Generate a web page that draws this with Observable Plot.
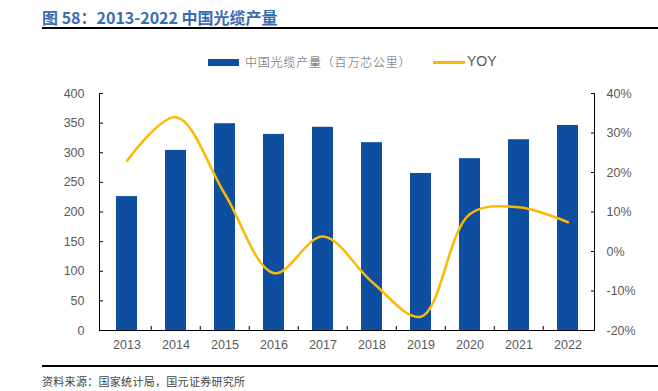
<!DOCTYPE html>
<html><head><meta charset="utf-8">
<script src="https://cdn.jsdelivr.net/npm/d3@7"></script>
<script src="https://cdn.jsdelivr.net/npm/@observablehq/plot@0.6"></script>
<style>
body{margin:0;background:#fff;}
#wrap{position:relative;width:658px;height:391px;overflow:hidden;font-family:"Liberation Sans",Arial,sans-serif;}
#title{position:absolute;left:42px;top:5px;font-family:"Noto Sans CJK SC",sans-serif;font-weight:bold;font-size:16px;color:#3a6cb2;white-space:nowrap;}
#tline{position:absolute;left:42px;top:27px;width:616px;height:2px;background:#000;}
#legend{position:absolute;left:0;top:52px;width:658px;height:20px;}
#fline{position:absolute;left:42px;top:365px;width:616px;height:2px;background:#000;}
#foot{position:absolute;left:42px;top:373px;font-family:"Noto Sans CJK SC",sans-serif;font-size:11px;color:#444;white-space:nowrap;letter-spacing:0.3px;}
#chart{position:absolute;left:0;top:0;}
.lg{position:absolute;white-space:nowrap;color:#595959;}
</style></head>
<body><div id="wrap">
<div id="chart"></div>
<div id="title">图 58：2013-2022 中国光缆产量</div>
<div id="tline"></div>
<div id="legend">
  <div style="position:absolute;left:208px;top:7px;width:31px;height:7px;background:#0d4ea0"></div>
  <div class="lg" style="left:245px;top:1px;font-family:'Noto Sans CJK SC',sans-serif;font-size:12px;font-weight:300;letter-spacing:0.8px;">中国光缆产量（百万芯公里）</div>
  <div style="position:absolute;left:433px;top:9px;width:32px;height:2.5px;background:#fbb900"></div>
  <div class="lg" style="left:467px;top:1px;font-size:14px;">YOY</div>
</div>
<div id="fline"></div>
<div id="foot">资料来源：国家统计局，国元证券研究所</div>
</div>
<script>
const years = ["2013","2014","2015","2016","2017","2018","2019","2020","2021","2022"];
const output = [226, 304, 349, 331, 343, 317, 265, 290, 322, 346];
const yoy = [23, 34, 14.5, -5.5, 3.8, -7.7, -16.5, 9.5, 11.2, 7.4];
const leftTicks = [0, 50, 100, 150, 200, 250, 300, 350, 400];
const rightTicks = [-20, -10, 0, 10, 20, 30, 40];

const yMax = 400, pMin = -20, pMax = 40;
const toY = p => (p - pMin) * yMax / (pMax - pMin);
const fromY = y => Math.round(y * (pMax - pMin) / yMax + pMin);

const bars = years.map((y, i) => ({year: y, value: output[i]}));
const line = years.map((y, i) => ({year: y, yoy: yoy[i]}));

const W = 658, H = 391;
const mL = 99, mR = 64, mT = 93, mB = 61;
const step = (W - mL - mR) / years.length;
const frameH = H - mT - mB;

const chart = Plot.plot({
  width: W, height: H,
  marginLeft: mL, marginRight: mR, marginTop: mT, marginBottom: mB,
  style: {fontFamily: "Liberation Sans, Arial, sans-serif", fontSize: "12px", color: "#595959", background: "transparent"},
  x: {domain: years, paddingInner: 0.576, paddingOuter: 0.288, label: null},
  y: {domain: [0, yMax], label: null},
  marks: [
    Plot.barY(bars, {x: "year", y: "value", fill: "#0d4ea0"}),
    Plot.lineY(line, {x: "year", y: d => toY(d.yoy), stroke: "#fbb900", strokeWidth: 2.5, curve: "catmull-rom"}),
    Plot.frame({anchor: "left", stroke: "#000"}),
    Plot.frame({anchor: "right", stroke: "#000"}),
    Plot.ruleY([0], {stroke: "#000"}),
    Plot.ruleX(years.slice(1), {x: d => d, dx: -step / 2, insetTop: frameH - 4, stroke: "#000"}),
    Plot.axisX({tickSize: 0, tickPadding: 10, fill: "#595959", fontSize: 12.5}),
    Plot.axisY({anchor: "left", ticks: leftTicks, tickSize: -4, tickPadding: 19, stroke: "#000", fill: "#595959", fontSize: 12.5}),
    Plot.axisY({anchor: "right", ticks: rightTicks.map(toY), tickFormat: d => fromY(d) + "%", tickSize: -4, tickPadding: 16, stroke: "#000", fill: "#595959", fontSize: 12.5})
  ]
});
document.getElementById("chart").appendChild(chart);
</script>
</body></html>
